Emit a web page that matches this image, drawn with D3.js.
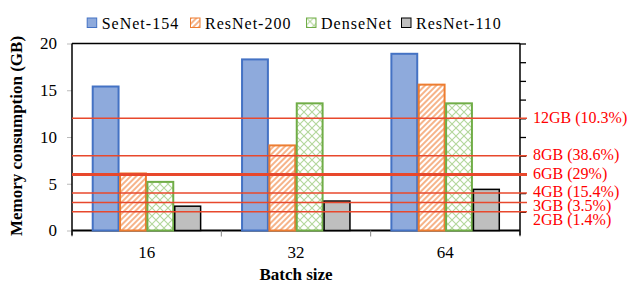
<!DOCTYPE html>
<html>
<head>
<meta charset="utf-8">
<script src="https://cdn.jsdelivr.net/npm/d3@7"></script>
<style>
  body { margin: 0; background: #fff; }
  svg { display: block; font-family: "Liberation Serif", "Times New Roman", serif; }
</style>
</head>
<body>
<div id="chart"></div>
<script>
// chart data
var batches = ["16", "32", "64"];
var models = ["SeNet-154", "ResNet-200", "DenseNet", "ResNet-110"];
var senet = [15.4, 18.3, 18.9];
var resnet200 = [6.1, 9.1, 15.6];
var densenet = [5.2, 13.6, 13.6];
var resnet110 = [2.6, 3.15, 4.4];
var yTicks = [0, 5, 10, 15, 20];
var rightTicks = [2, 4, 6, 8, 10, 12, 14, 16, 18, 20];
var limits = [12, 8, 6, 4, 3, 2];
var limitLabels = ["12GB (10.3%)", "8GB (38.6%)", "6GB (29%)", "4GB (15.4%)", "3GB (3.5%)", "2GB (1.4%)"];

var width = 640, height = 288;
var margin = {left: 72, right: 120, top: 43.5, bottom: 57.5};

var svg = d3.select('#chart').append('svg')
    .attr('width', width)
    .attr('height', height);

var defs = svg.append('defs');

// orange diagonal stripes
var p1 = defs.append('pattern')
    .attr('id', 'stripes')
    .attr('patternUnits', 'userSpaceOnUse')
    .attr('width', 4).attr('height', 4)
    .attr('patternTransform', 'rotate(45)');
p1.append('rect').attr('width', 4).attr('height', 4).attr('fill', '#fff');
p1.append('rect').attr('width', 2).attr('height', 4).attr('fill', '#f6b48a');

// green diamond cross-hatch
var p2 = defs.append('pattern')
    .attr('id', 'cross')
    .attr('patternUnits', 'userSpaceOnUse')
    .attr('width', 8).attr('height', 8);
p2.append('rect').attr('width', 8).attr('height', 8).attr('fill', '#fff');
p2.append('path')
    .attr('d', 'M0,0 L8,8 M8,0 L0,8')
    .attr('stroke', '#b3d79b').attr('stroke-width', 1.1).attr('fill', 'none');

var styles = [
    {fill: '#8eaadc', stroke: '#4472c4'},
    {fill: 'url(#stripes)', stroke: '#ed7d31'},
    {fill: 'url(#cross)', stroke: '#70ad47'},
    {fill: '#bfbfbf', stroke: '#000'}
];

var plotW = width - margin.left - margin.right;
var x0 = d3.scaleBand().domain(batches).range([margin.left, margin.left + plotW]);
var x1 = d3.scaleBand().domain(models).range([0, x0.bandwidth()]).paddingOuter(0.73);
var y = d3.scaleLinear().domain([0, 20]).range([height - margin.bottom, margin.top]);

var series = [senet, resnet200, densenet, resnet110];
var table = [];
batches.forEach(function(b, i) {
    models.forEach(function(m, j) {
        table.push({batch: b, model: m, idx: j, value: series[j][i]});
    });
});

// baseline (behind bars)
svg.append('line')
    .attr('x1', margin.left).attr('x2', margin.left + plotW)
    .attr('y1', y(0)).attr('y2', y(0))
    .attr('stroke', '#000').attr('stroke-width', 2);

svg.selectAll('.bar')
    .data(table)
    .enter()
    .append('rect')
    .attr('class', 'bar')
    .attr('x', function(d) { return x0(d.batch) + x1(d.model) + 0.75; })
    .attr('y', function(d) { return y(d.value); })
    .attr('width', x1.bandwidth() - 1.5)
    .attr('height', function(d) { return y(0) - y(d.value); })
    .attr('fill', function(d) { return styles[d.idx].fill; })
    .attr('stroke', function(d) { return styles[d.idx].stroke; })
    .attr('stroke-width', function(d) { return d.idx == 3 ? 1.5 : 2; });

// left axis
var yAxis = svg.append('g')
    .attr('transform', 'translate(' + margin.left + ',0)')
    .call(d3.axisLeft(y).tickValues(yTicks).tickSize(5).tickPadding(10));
yAxis.select('.domain').remove();
yAxis.selectAll('line').attr('stroke', '#bbb');
yAxis.selectAll('text').attr('font-size', '17px').attr('fill', '#000')
    .attr('font-family', '"Liberation Serif", serif');

// right axis (ticks only)
var rAxis = svg.append('g')
    .attr('transform', 'translate(' + (margin.left + plotW) + ',0)')
    .call(d3.axisRight(y).tickValues(rightTicks).tickSize(6).tickFormat(''));
rAxis.select('.domain').remove();
rAxis.selectAll('line').attr('stroke', '#000').attr('stroke-width', 1.3);

// x axis ticks at category boundaries
var bounds = batches.map(function(b) { return x0(b); }).concat([margin.left + plotW]);
svg.selectAll('.xtick')
    .data(bounds)
    .enter()
    .append('line')
    .attr('x1', function(d) { return d; }).attr('x2', function(d) { return d; })
    .attr('y1', y(0)).attr('y2', y(0) + 6)
    .attr('stroke', '#888').attr('stroke-width', 1);

svg.selectAll('.xlabel')
    .data(batches)
    .enter()
    .append('text')
    .attr('x', function(d) { return x0(d) + x0.bandwidth() / 2; })
    .attr('y', y(0) + 27.5)
    .attr('text-anchor', 'middle')
    .attr('font-size', '17px')
    .text(function(d) { return d; });

// frame
svg.append('line')
    .attr('x1', margin.left).attr('x2', margin.left)
    .attr('y1', margin.top).attr('y2', y(0) + 5)
    .attr('stroke', '#000').attr('stroke-width', 1.5);
svg.append('line')
    .attr('x1', margin.left + plotW).attr('x2', margin.left + plotW)
    .attr('y1', margin.top).attr('y2', y(0) + 5)
    .attr('stroke', '#000').attr('stroke-width', 1.5);
svg.append('line')
    .attr('x1', margin.left).attr('x2', margin.left + plotW)
    .attr('y1', margin.top).attr('y2', margin.top)
    .attr('stroke', '#000').attr('stroke-width', 1.5);

// memory limit lines
svg.selectAll('.limit')
    .data(limits)
    .enter()
    .append('line')
    .attr('x1', margin.left).attr('x2', margin.left + plotW + 7)
    .attr('y1', function(d) { return y(d); }).attr('y2', function(d) { return y(d); })
    .attr('stroke', '#e8482c')
    .attr('stroke-width', function(d) { return d == 6 ? 3 : 1.5; });

// labels, pushed down when they would overlap
var labelY = [];
limits.forEach(function(v, i) {
    var ly = y(v) - 1;
    if (i > 0 && ly < labelY[i - 1] + 14) ly = labelY[i - 1] + 14;
    labelY.push(ly);
});
svg.selectAll('.limitLabel')
    .data(limitLabels)
    .enter()
    .append('text')
    .attr('x', margin.left + plotW + 13)
    .attr('y', function(d, i) { return labelY[i]; })
    .attr('dy', '0.33em')
    .attr('font-size', '16px')
    .attr('fill', '#ff0000')
    .text(function(d) { return d; });

// legend
var legendX = [86.7, 190, 306, 401];
var legend = svg.selectAll('.legend')
    .data(models)
    .enter()
    .append('g')
    .attr('transform', function(d, i) { return 'translate(' + legendX[i] + ',17.5)'; });
legend.append('rect')
    .attr('x', 0.5).attr('y', 0.5)
    .attr('width', 9.5).attr('height', 9.5)
    .attr('fill', function(d, i) { return styles[i].fill; })
    .attr('stroke', function(d, i) { return styles[i].stroke; })
    .attr('stroke-width', 1);
legend.append('text')
    .attr('x', 15)
    .attr('y', 11)
    .attr('font-size', '16px')
    .attr('letter-spacing', '1px')
    .text(function(d) { return d; });

// axis titles
svg.append('text')
    .attr('x', margin.left + plotW / 2)
    .attr('y', 280)
    .attr('text-anchor', 'middle')
    .attr('font-size', '17px')
    .attr('font-weight', 'bold')
    .text('Batch size');

svg.append('text')
    .attr('transform', 'translate(22,' + (y(10) - 1) + ') rotate(-90)')
    .attr('text-anchor', 'middle')
    .attr('font-size', '17px')
    .attr('font-weight', 'bold')
    .text('Memory consumption (GB)');
</script>
</body>
</html>
